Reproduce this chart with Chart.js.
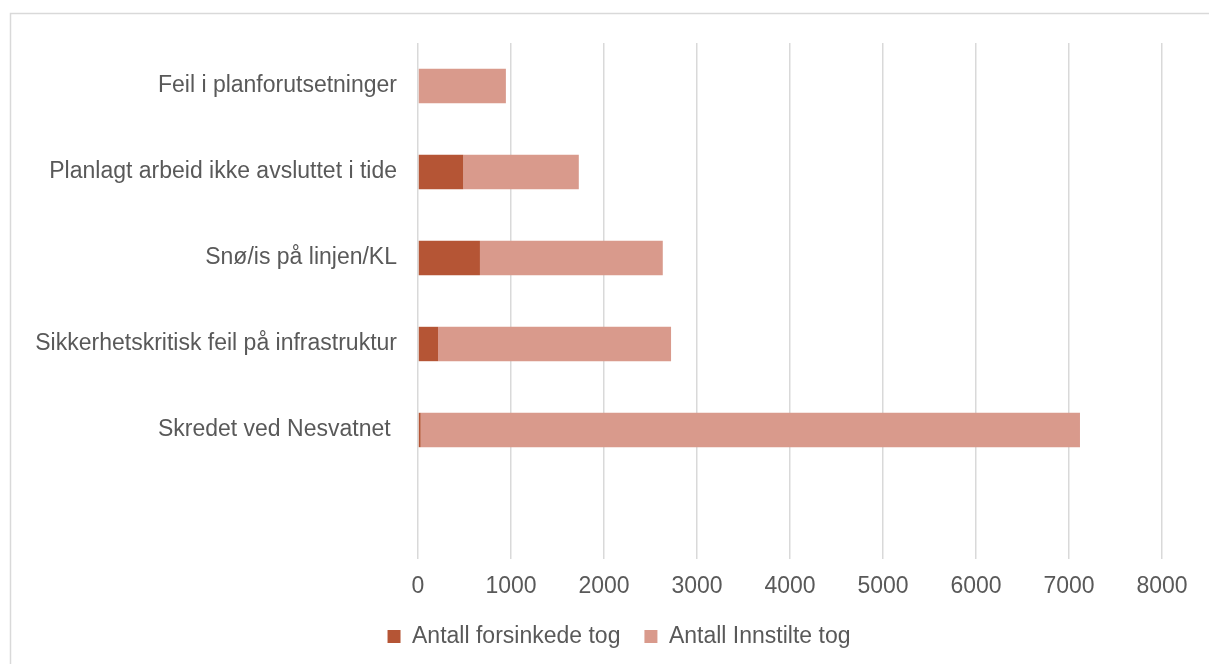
<!DOCTYPE html>
<html lang="no">
<head>
<meta charset="utf-8">
<title>Forsinkede og innstilte tog etter årsak</title>
<script src="https://cdn.jsdelivr.net/npm/chart.js@4.4.1/dist/chart.umd.min.js"></script>
<style>
  html, body { margin: 0; padding: 0; background: #ffffff; }
  #wrap { position: relative; width: 1209px; height: 664px; }
</style>
</head>
<body>
<div id="wrap"><canvas id="chart" width="1209" height="664"></canvas></div>
<script>
// Årsaker (the trailing blank category leaves the empty band at the bottom)
const categories = [
  'Feil i planforutsetninger',
  'Planlagt arbeid ikke avsluttet i tide',
  'Snø/is på linjen/KL',
  'Sikkerhetskritisk feil på infrastruktur',
  'Skredet ved Nesvatnet ',
  ''
];
const forsinkede = [0, 487, 666, 215, 29, null];
const innstilte = [945, 1242, 1966, 2506, 7089, null];
const xTicks = [0, 1000, 2000, 3000, 4000, 5000, 6000, 7000, 8000];

const FONT = '"Liberation Sans", Arial, sans-serif';
const TEXT = '#595959';
const GRID = '#d9d9d9';
const PLOT_LEFT = 418;
const LEGEND_SHIFT = 38;

// Light frame around the chart (left and top edges)
const framePlugin = {
  id: 'frame',
  beforeDraw(chart) {
    const ctx = chart.ctx;
    ctx.save();
    ctx.strokeStyle = GRID;
    ctx.lineWidth = 1.5;
    ctx.beginPath();
    ctx.moveTo(10.5, chart.height);
    ctx.lineTo(10.5, 13.5);
    ctx.lineTo(chart.width, 13.5);
    ctx.stroke();
    ctx.restore();
  }
};

// Centre the legend under the whole chart width rather than the plot box
const legendShiftPlugin = {
  id: 'legendShift',
  afterLayout(chart) {
    if (chart.legend) {
      chart.legend.left += LEGEND_SHIFT;
      chart.legend.right += LEGEND_SHIFT;
    }
  }
};

new Chart(document.getElementById('chart'), {
  type: 'bar',
  data: {
    labels: categories,
    datasets: [
      {
        label: 'Antall forsinkede tog',
        data: forsinkede,
        backgroundColor: '#b55535',
        borderWidth: 0
      },
      {
        label: 'Antall Innstilte tog',
        data: innstilte,
        backgroundColor: '#d99a8c',
        borderWidth: 0
      }
    ]
  },
  options: {
    indexAxis: 'y',
    responsive: false,
    animation: false,
    layout: { padding: { top: 43, right: 47, bottom: 6, left: 0 } },
    datasets: {
      bar: { categoryPercentage: 1, barPercentage: 0.4 }
    },
    scales: {
      x: {
        stacked: true,
        min: 0,
        max: 8000,
        afterBuildTicks(scale) {
          scale.ticks = xTicks.map(v => ({ value: v }));
        },
        afterFit(scale) { scale.height = 42; },
        grid: { color: GRID, lineWidth: 1.5, drawTicks: false },
        border: { display: false },
        ticks: {
          color: TEXT,
          padding: 14,
          font: { family: FONT, size: 23 },
          callback: v => String(v)
        }
      },
      y: {
        stacked: true,
        afterFit(scale) { scale.width = PLOT_LEFT; },
        grid: { display: false, drawTicks: false },
        border: { display: false },
        ticks: {
          color: TEXT,
          padding: 21,
          autoSkip: false,
          font: { family: FONT, size: 23 }
        }
      }
    },
    plugins: {
      legend: {
        position: 'bottom',
        labels: {
          color: TEXT,
          boxWidth: 13,
          boxHeight: 13,
          padding: 24,
          font: { family: FONT, size: 23 }
        }
      },
      tooltip: { enabled: false }
    }
  },
  plugins: [framePlugin, legendShiftPlugin]
});
</script>
</body>
</html>
